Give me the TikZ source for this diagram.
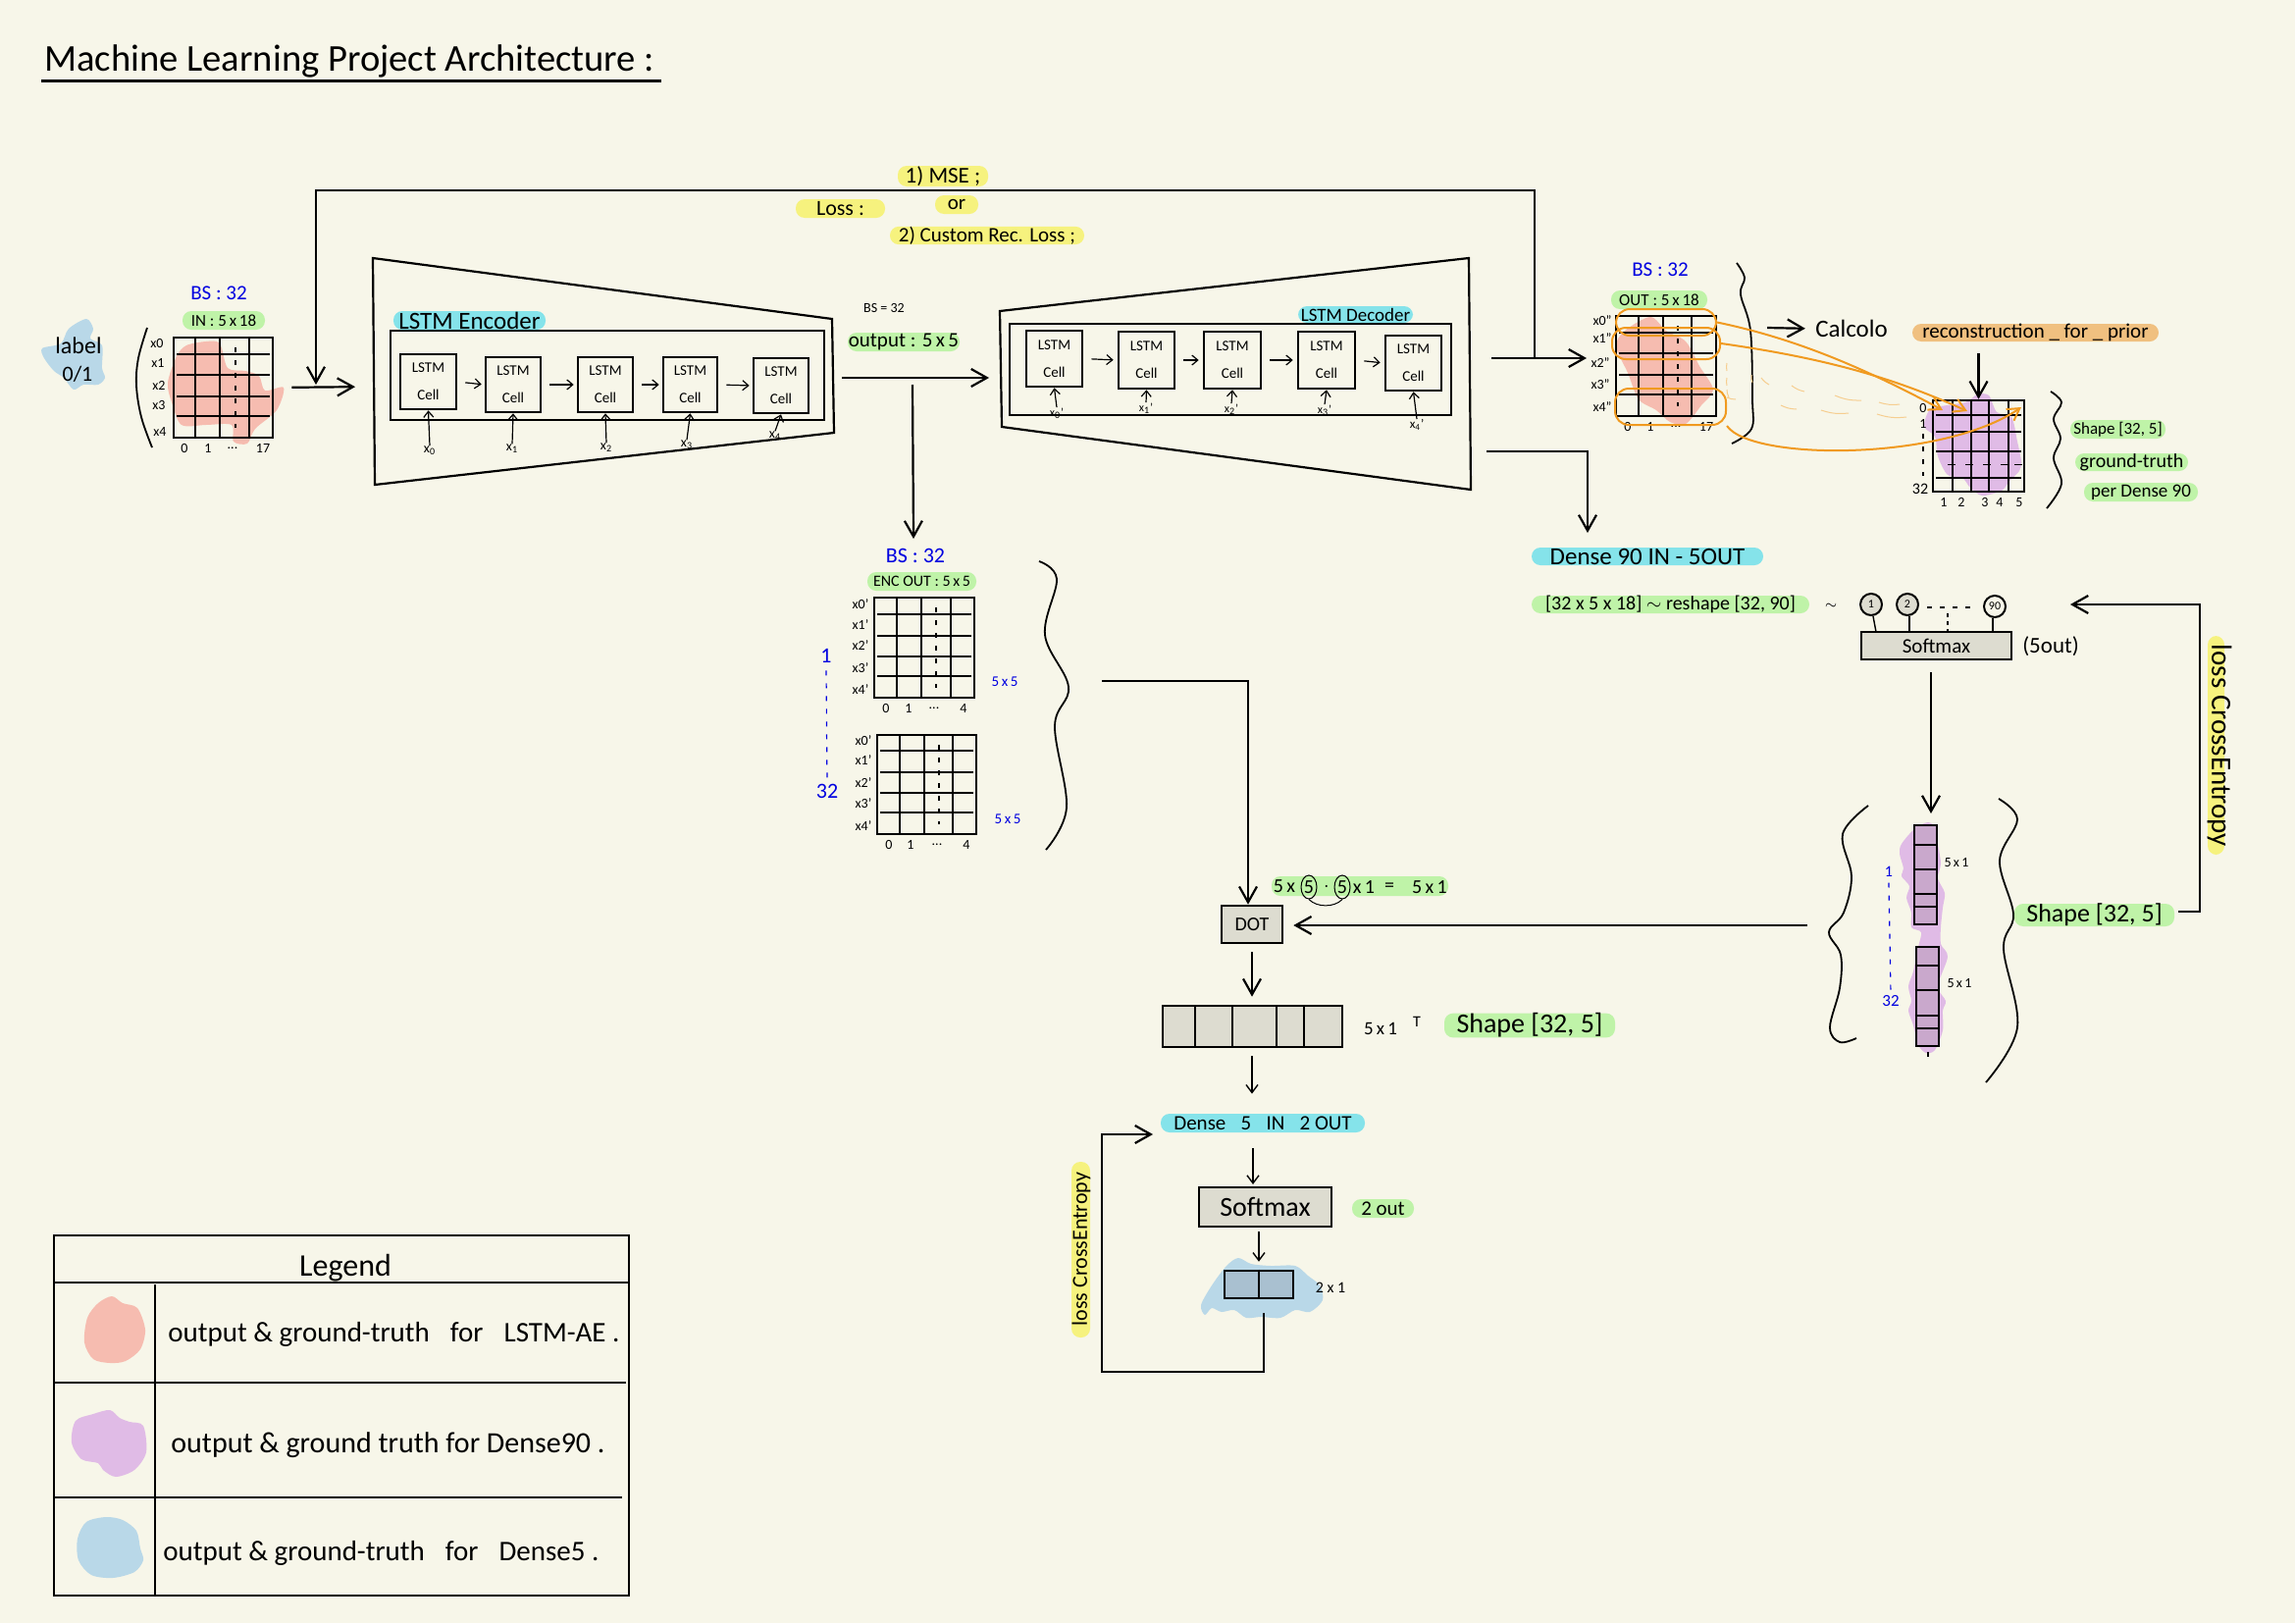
\documentclass[tikz,border=0pt]{standalone}
\usepackage{fontspec}
\setmainfont{Carlito}
\usetikzlibrary{arrows.meta,shapes.geometric}
\definecolor{paper}{HTML}{F7F6E9}
\definecolor{rblob}{HTML}{F6BCB0}
\definecolor{pblob}{HTML}{E0BBE6}
\definecolor{bblob}{HTML}{B9D8E8}
\definecolor{hyel}{HTML}{F6F27E}
\definecolor{hgrn}{HTML}{BFF3A8}
\definecolor{hcyn}{HTML}{85E3EA}
\definecolor{horg}{HTML}{F0C080}
\definecolor{boxg}{HTML}{DDDCD0}
\definecolor{stackp}{HTML}{C9A8CC}
\definecolor{dualb}{HTML}{A9C0D0}
\definecolor{ostk}{HTML}{F09A20}
\definecolor{olite}{HTML}{F6CE90}
\definecolor{bink}{HTML}{0000E0}
\tikzset{
  fs/.style={font=\fontsize{#1}{#1}\selectfont},
  pill/.style={rounded corners=4.5pt,draw=none},
  hy/.style={pill,fill=hyel},
  hg/.style={pill,fill=hgrn},
  hc/.style={pill,fill=hcyn},
  ho/.style={pill,fill=horg},
  frame/.style={draw=black,line width=1.3pt},
  gbox/.style={frame,fill=boxg},
  gl/.style={line width=1.2pt},
  gd/.style={line width=0.6pt,dash pattern=on 2.5pt off 4pt},
  line/.style={line width=1.1pt},
  thin line/.style={line width=0.7pt},
  arr/.style={line width=1.1pt,-{Straight Barb[length=8pt,width=9pt,line width=1.1pt]}},
  sarr/.style={line width=0.6pt,-{Straight Barb[length=3pt,width=5pt,line width=0.6pt]}},
  marr/.style={line width=0.7pt,-{Straight Barb[length=4pt,width=6pt,line width=0.7pt]}},
  oarr/.style={line width=1pt,draw=ostk,-{Straight Barb[length=6pt,width=7pt,line width=1pt]}},
  ocirc/.style={rectangle,rounded corners=7pt,draw=ostk,line width=1pt,inner sep=0pt},
  brace/.style={line width=0.9pt,smooth,tension=0.6},
  lbl/.style={inner sep=0pt,fs=#1},
  lbl/.default=7,
  blu/.style={inner sep=0pt,text=bink,fs=#1},
  oli/.style={line width=0.5pt,draw=olite},
}
% box given by its pixel corners
\newcommand{\rbox}[7][]{%
  \pgfmathsetmacro\rbcx{(#3+#5)/2}\pgfmathsetmacro\rbcy{(#4+#6)/2}%
  \pgfmathsetmacro\rbw{(#5-#3)/2}\pgfmathsetmacro\rbh{(#6-#4)/2}%
  \node[inner sep=0pt,minimum width=\rbw pt,minimum height=\rbh pt,#1] (#2) at (\rbcx,\rbcy) {#7};}
% grid: name,x1,y1,x2,y2,verticals,horizontals,dashed x (0 = none)
\newcommand{\gridbox}[8]{%
  \foreach \vv in {#6} \draw[gl] (\vv,#3) -- (\vv,#5);
  \foreach \hh in {#7} \draw[gl] (#2+3,\hh) -- (#4-3,\hh);
  \ifnum#8>0 \draw[gd] (#8,#3+10) -- (#8,#5-10);\fi
  \rbox[frame]{#1}{#2}{#3}{#4}{#5}{}}
\begin{document}
\begin{tikzpicture}[x=0.5pt,y=-0.5pt]
\useasboundingbox (0,0) rectangle (2339,1654);
\fill[paper] (0,0) rectangle (2339,1654);

% title
\node[inner sep=0pt,fs=19.3,anchor=west] (title) at (45,62) {Machine Learning Project Architecture :};
\coordinate (tulA) at (42,82); \coordinate (tulB) at (674,82);
\draw[line width=1.5pt] (tulA) -- (tulB);

% --- colour blobs ---
\fill[bblob] plot[smooth cycle] coordinates {(62,350)(70,335)(88,325)(95,335)(92,345)(104,352)(104,375)(107,385)(100,392)(85,392)(75,397)(65,385)(55,378)(45,365)(43,355)};
\fill[rblob] plot[smooth cycle] coordinates {(190,352)(210,348)(224,350)(232,375)(250,378)(264,383)(270,398)(289,395)(282,418)(260,437)(252,452)(238,450)(236,433)(210,433)(185,433)(175,410)(171,390)(180,363)};
\fill[rblob] plot[smooth cycle] coordinates {(1656,337)(1682,323)(1698,337)(1718,348)(1732,373)(1746,397)(1734,413)(1718,432)(1702,430)(1688,418)(1670,407)(1659,380)(1647,353)};
\fill[pblob] plot[smooth cycle] coordinates {(1972,415)(2003,410)(2015,402)(2027,403)(2035,420)(2050,425)(2056,450)(2060,470)(2058,480)(2048,490)(2040,500)(2020,505)(2008,497)(2000,487)(1985,484)(1975,465)(1972,445)(1961,435)(1965,420)};
\fill[pblob] plot[smooth cycle] coordinates {(1951,845)(1938,860)(1936,870)(1940,885)(1938,893)(1946,903)(1943,915)(1948,930)(1948,945)(1958,950)(1955,965)(1950,990)(1945,1005)(1948,1020)(1945,1030)(1950,1045)(1955,1065)(1963,1073)(1972,1070)(1980,1050)(1980,1030)(1983,1020)(1975,1005)(1985,975)(1978,962)(1978,945)(1980,925)(1982,910)(1975,895)(1978,880)(1975,860)(1974,845)(1965,838)};
\fill[bblob] plot[smooth cycle] coordinates {(1224,1330)(1235,1310)(1250,1290)(1262,1282)(1275,1288)(1295,1290)(1320,1290)(1333,1300)(1345,1310)(1348,1325)(1335,1337)(1320,1335)(1305,1343)(1285,1342)(1270,1343)(1258,1335)(1245,1337)(1235,1333)(1228,1340)};

% --- label + input ---
\node[lbl=12] (lab1) at (80,352) {label};
\node[lbl=11] (lab2) at (79,381) {0/1};
\node[blu=10.5] (bsin) at (223,299) {BS : 32};
\rbox[hg,fs=8.5]{pin}{186}{317}{270}{336}{IN : 5\,x\,18}
\gridbox{ingrid}{177}{344}{278}{446}{199,224,254}{361,382,404,424}{240}
\draw[brace] plot coordinates {(150,334)(141,365)(139,393)(144,425)(155,456)};
\node[lbl] (ir0) at (160,350) {x0};
\node[lbl] (ir1) at (161,370) {x1};
\node[lbl] (ir2) at (162,393) {x2};
\node[lbl] (ir3) at (162,413) {x3};
\node[lbl] (ir4) at (163,440) {x4};
\node[lbl] (ic0) at (188,457) {0};
\node[lbl] (ic1) at (212,457) {1};
\node[lbl] (ic2) at (237,457) {...};
\node[lbl] (ic3) at (268,457) {17};

% --- encoder ---
\coordinate (enA) at (380,263); \coordinate (enB) at (848,325);
\coordinate (enC) at (850,441); \coordinate (enD) at (382,494);
\draw[line,line join=miter] (enA) -- (enB) -- (enC) -- (enD) -- cycle;
\coordinate (enW) at (380,394);
\coordinate (enE) at (850,385);
\rbox[hc,fs=12.5]{penc}{401}{317}{556}{336}{LSTM Encoder}
\rbox[frame]{enbox}{398}{337}{840}{428}{}
\tikzset{cellb/.style={frame,align=center,font=\fontsize{7.5}{14}\selectfont}}
\rbox[cellb]{c0}{408}{361}{465}{417}{LSTM\\Cell}
\rbox[cellb]{c1}{495}{364}{551}{420}{LSTM\\Cell}
\rbox[cellb]{c2}{589}{364}{645}{420}{LSTM\\Cell}
\rbox[cellb]{c3}{676}{364}{731}{420}{LSTM\\Cell}
\rbox[cellb]{c4}{768}{365}{824}{421}{LSTM\\Cell}
\foreach \a/\b in {c0/c1,c1/c2,c2/c3,c3/c4}
  \draw[sarr,shorten <=4pt,shorten >=1.5pt] (\a.east) -- (\b.west);
\node[lbl] (ex0) at (438,459) {x\textsubscript{0}};
\node[lbl] (ex1) at (522,457) {x\textsubscript{1}};
\node[lbl] (ex2) at (618,456) {x\textsubscript{2}};
\node[lbl] (ex3) at (700,453) {x\textsubscript{3}};
\node[lbl] (ex4) at (790,444) {x\textsubscript{4}};
\draw[sarr] (ex0.north) -- (c0.south);
\draw[sarr] (ex1.north) -- (c1.south);
\draw[sarr] (ex2.north) -- (c2.south);
\draw[sarr] (ex3.north) -- (c3.south);
\draw[sarr] (ex4.north) -- (c4.south);
\draw[arr,shorten <=9pt,shorten >=9pt] (ingrid.east) -- (enW);

% --- loss labels ---
\rbox[hy,fs=11]{ploss}{811}{203}{902}{222}{Loss :}
\rbox[hy,fs=11.5]{pmse}{915}{169}{1007}{190}{1) MSE ;}
\rbox[hy,fs=10.5]{por}{953}{199}{997}{218}{or}
\rbox[hy,fs=10.5]{pcus}{907}{231}{1105}{249}{2) Custom Rec. Loss ;}

% --- encoder output ---
\node[lbl=7] (bseq) at (901,314) {BS = 32};
\rbox[hg,fs=10.5]{pout}{864}{339}{978}{358}{output : 5\,x\,5}

% --- decoder ---
\coordinate (deA) at (1019,317); \coordinate (deB) at (1497,263);
\coordinate (deC) at (1499,499); \coordinate (deD) at (1021,435);
\draw[line,line join=miter] (deA) -- (deB) -- (deC) -- (deD) -- cycle;
\coordinate (deW) at (1008,385);
\rbox[hc,fs=9.5]{pdec}{1323}{312}{1440}{329}{LSTM Decoder}
\rbox[frame]{debox}{1029}{330}{1479}{423}{}
\rbox[cellb]{d0}{1046}{337}{1103}{394}{LSTM\\Cell}
\rbox[cellb]{d1}{1140}{338}{1197}{396}{LSTM\\Cell}
\rbox[cellb]{d2}{1227}{338}{1285}{396}{LSTM\\Cell}
\rbox[cellb]{d3}{1323}{338}{1381}{396}{LSTM\\Cell}
\rbox[cellb]{d4}{1412}{342}{1469}{398}{LSTM\\Cell}
\foreach \a/\b in {d0/d1,d1/d2,d2/d3,d3/d4}
  \draw[sarr,shorten <=4pt,shorten >=2pt] (\a.east) -- (\b.west);
\node[lbl=6] (dx0) at (1077,421) {x\textsubscript{0}'};
\node[lbl=6] (dx1) at (1168,416) {x\textsubscript{1}'};
\node[lbl=6] (dx2) at (1255,417) {x\textsubscript{2}'};
\node[lbl=6] (dx3) at (1350,418) {x\textsubscript{3}'};
\node[lbl=6.5] (dx4) at (1444,433) {x\textsubscript{4}'};
\draw[sarr] (dx0.north) -- (d0.south);
\draw[sarr] (dx1.north) -- (d1.south);
\draw[sarr] (dx2.north) -- (d2.south);
\draw[sarr] (dx3.north) -- (d3.south);
\draw[sarr] (dx4.north) -- (d4.south);
\coordinate (ouE) at (858,385);
\draw[arr] (ouE) -- (deW);

% --- decoder output ---
\node[blu=10.5] (bsout) at (1692,275) {BS : 32};
\rbox[hg,fs=8.5]{pou2}{1642}{296}{1740}{315}{OUT : 5\,x\,18}
\gridbox{outgrid}{1647}{322}{1749}{424}{1670,1695,1724}{339,360,382,402}{1710}
\node[lbl] (or0) at (1633,327) {x0''};
\node[lbl] (or1) at (1633,345) {x1''};
\node[lbl] (or2) at (1631,370) {x2''};
\node[lbl] (or3) at (1631,392) {x3''};
\node[lbl] (or4) at (1633,415) {x4''};
\node[lbl] (oc0) at (1659,435) {0};
\node[lbl] (oc1) at (1682,435) {1};
\node[lbl] (oc2) at (1708,435) {...};
\node[lbl] (oc3) at (1739,435) {17};
\coordinate (outW) at (1617,365);
\coordinate (deO) at (1520,365);
\draw[arr] (deO) -- (outW);
% MSE loop
\coordinate (lpR) at (1564,365); \coordinate (lpTR) at (1564,194);
\coordinate (lpTL) at (322,194); \coordinate (lpE) at (322,392);
\draw[arr,line join=miter] (lpR) -- (lpTR) -- (lpTL) -- (lpE);
\coordinate (enDn) at (930,392);

% big brace, Calcolo
\draw[brace] plot coordinates {(1770,268)(1778,283)(1774,300)(1784,337)(1786,407)(1785,437)(1765,452)};
\coordinate (calA) at (1801,334);
\node[lbl=12.5] (calc) at (1887,335) {Calcolo};
\draw[arr,shorten >=5pt] (calA) -- (calc.west);
\rbox[ho,fs=10.5]{prec}{1949}{330}{2200}{348}{reconstruction \_ for \_ prior}

% purple matrix
\gridbox{pgrid}{1970}{408}{2063}{501}{1990,2009,2027,2047}{423,440,460,487}{0}
\foreach \dx in {1985,2003,2021,2039,2053} \draw[line width=0.5pt] (\dx,473) -- (\dx+8,473);
\draw[arr] (prec.south -| pgrid.north) ++(0,12) coordinate (recA) -- (pgrid.north);
\node[lbl] (pr0) at (1960,416) {0};
\node[lbl] (pr1) at (1960,432) {1};
\coordinate (pdA) at (1960,442); \coordinate (pdB) at (1960,485);
\draw[gd] (pdA) -- (pdB);
\node[lbl=8] (pr2) at (1957,498) {32};
\node[lbl] (pc1) at (1981,512) {1};
\node[lbl] (pc2) at (1999,512) {2};
\node[lbl] (pc3) at (2023,512) {3};
\node[lbl] (pc4) at (2038,512) {4};
\node[lbl] (pc5) at (2058,512) {5};
\draw[brace] plot coordinates {(2090,399)(2101,410)(2093,427)(2100,447)(2093,467)(2101,493)(2086,518)};
\rbox[hg,fs=8.5]{ps1}{2110}{428}{2207}{447}{Shape [32, 5]}
\rbox[hg,fs=10]{ps2}{2115}{462}{2230}{480}{ground-truth}
\rbox[hg,fs=9.5]{ps3}{2124}{492}{2240}{511}{per Dense 90}

% orange selections
\rbox[ocirc]{oe1}{1647}{315}{1749}{342}{}
\rbox[ocirc]{oe2}{1643}{334}{1753}{366}{}
\rbox[ocirc]{oe3}{1646}{396}{1759}{433}{}
\coordinate (ot1) at (1980,418); \coordinate (ot2) at (2005,419); \coordinate (ot3) at (2060,415);
\draw[oarr] (oe1.east) .. controls (1830,345) and (1900,375) .. (ot1);
\draw[oarr] (oe2.east) .. controls (1860,365) and (1930,385) .. (ot2);
\draw[oarr] (oe3.south east) .. controls (1785,470) and (1980,470) .. (ot3);
\foreach \ax/\ay/\bx/\by in {1760/370/1760/378,1760/385/1760/393,1760/397/1762/405,1760/405/1769/407,1785/382/1786/390,1795/385/1803/392,1826/393/1839/399,1870/403/1897/408,1915/410/1936/412,1815/413/1831/417,1856/418/1884/421,1913/422/1943/425}
  \draw[oli] (\ax,\ay) to[bend right=12] (\bx,\by);

% --- encoder output matrices ---
\coordinate (eoTip) at (931,549);
\draw[arr] (enDn) -- (eoTip);
\node[blu=11] (bsenc) at (933,566) {BS : 32};
\rbox[hg,fs=8]{peo}{884}{583}{995}{602}{ENC OUT : 5\,x\,5}
\gridbox{g1}{891}{609}{993}{711}{914,939,969}{626,648,669,689}{954}
\gridbox{g2}{894}{749}{995}{850}{917,942,971}{765,787,808,828}{957}
\foreach \nm/\ly/\tx in {a/616/x0',b/637/x1',c/658/x2',d/681/x3',e/703/x4'}
  \node[lbl] (gl\nm) at (877,\ly) {\tx};
\foreach \nm/\ly/\tx in {a/755/x0',b/775/x1',c/798/x2',d/819/x3',e/842/x4'}
  \node[lbl] (gm\nm) at (880,\ly) {\tx};
\node[lbl] (g1c0) at (903,722) {0};
\node[lbl] (g1c1) at (926,722) {1};
\node[lbl] (g1c2) at (952,722) {...};
\node[lbl] (g1c3) at (982,722) {4};
\node[lbl] (g2c0) at (906,861) {0};
\node[lbl] (g2c1) at (928,861) {1};
\node[lbl] (g2c2) at (955,861) {...};
\node[lbl] (g2c3) at (985,861) {4};
\node[blu=11] (bone) at (842,668) {1};
\node[blu=11] (btwo) at (843,806) {32};
\draw[gd,draw=bink,line width=0.6pt] (bone.south) ++(0,8) -- (btwo.north);
\node[blu=7.5] (d55a) at (1024,695) {5\,x\,5};
\node[blu=7.5] (d55b) at (1027,835) {5\,x\,5};
\draw[brace] plot coordinates {(1059,572)(1077,590)(1065,647)(1089,700)(1075,740)(1087,823)(1066,866)};

% --- Dense 90 branch ---
\coordinate (dnA) at (1515,460); \coordinate (dnB) at (1618,460);
\rbox[hc,fs=12.5]{pd90}{1561}{558}{1797}{576}{Dense  90 IN - 5OUT}
\coordinate (dnC) at (1618,543);
\draw[arr,line join=miter] (dnA) -- (dnB) -- (dnC);
\rbox[hg,fs=10]{prs}{1561}{607}{1844}{625}{[32 x 5 x 18] $\sim$ reshape [32, 90]}
\node[lbl] (tld) at (1866,618) {$\sim$};
\rbox[gbox,fs=10.5]{sm1}{1897}{644}{2050}{672}{Softmax}
\node[lbl=11.5] (sm1o) at (2090,659) {(5out)};
\tikzset{neu/.style={circle,draw=black,line width=1pt,minimum size=11pt,inner sep=0pt,fs=6}}
\node[neu,fill=boxg] (n1) at (1907,616) {1};
\node[neu,fill=boxg] (n2) at (1944,616) {2};
\node[neu] (n3) at (2033,618) {90};
\coordinate (ndA) at (1964,619); \coordinate (ndB) at (2008,619);
\draw[gd] (ndA) -- (ndB);
\coordinate (ndC) at (1985,625);
\coordinate (ndD) at (1985,644);
\draw[thin line,dash pattern=on 2pt off 2pt] (ndC) -- (ndD);
\draw[thin line] (n1.south) ++(2,0) -- (1912,644);
\draw[thin line] (n2.south) ++(2,0) -- (1946,644);
\draw[thin line] (n3.south) ++(-2,0) -- (2031,644);

% stacks
\rbox[frame,fill=stackp]{st1}{1951}{841}{1974}{942}{}
\rbox[frame,fill=stackp]{st2}{1953}{965}{1976}{1066}{}
\foreach \yy in {861,886,911,924} \draw[gl] (st1.west |- 0,\yy) -- (st1.east |- 0,\yy);
\foreach \yy in {984,1009,1035,1048} \draw[gl] (st2.west |- 0,\yy) -- (st2.east |- 0,\yy);
\coordinate (stTop) at (1968,829);
\draw[arr,shorten <=6pt] (sm1.south -| stTop) -- (stTop);
\coordinate (tickA) at (1965,1072); \coordinate (tickB) at (1965,1077);
\draw[thin line] (tickA) -- (tickB);
\node[blu=8] (sb1) at (1925,888) {1};
\node[blu=8.5] (sb2) at (1927,1020) {32};
\draw[gd,draw=bink,line width=0.6pt] (sb1.south) ++(0,6) -- (sb2.north);
\node[lbl=7] (s51a) at (1994,879) {5\,x\,1};
\node[lbl=7] (s51b) at (1997,1002) {5\,x\,1};
\draw[brace] plot coordinates {(1904,821)(1878,850)(1887,893)(1879,930)(1864,950)(1876,973)(1875,1007)(1865,1047)(1875,1062)(1892,1058)};
\draw[brace] plot coordinates {(2037,814)(2056,835)(2038,877)(2052,932)(2042,967)(2056,1047)(2024,1103)};
\rbox[hg,fs=13]{ps4}{2053}{923}{2216}{942}{Shape [32, 5]}
% cross entropy return
\rbox[hy]{yv}{2250}{648}{2267}{871}{}
\node[inner sep=0pt,fs=14.5,rotate=-90] (yvt) at (2262,760) {loss CrossEntropy};
\coordinate (rtA) at (2220,929); \coordinate (rtB) at (2242,929);
\coordinate (rtC) at (2242,616); \coordinate (rtD) at (2110,616);
\draw[arr,line join=miter] (rtA) -- (rtB) -- (rtC) -- (rtD);

% --- Dot path ---
\rbox[gbox,fs=10]{dotb}{1245}{923}{1307}{961}{DOT}
\coordinate (brA) at (1123,694); \coordinate (brB) at (1272,694); 
\draw[arr,line join=miter] (brA) -- (brB) -- (dotb.north -| brB);
\coordinate (stL) at (1842,943);
\draw[arr,shorten >=5pt] (stL) -- (dotb.east |- stL);
\rbox[hg]{pdot}{1296}{893}{1476}{913}{}
\node[lbl=10] (ta) at (1309,903) {5\,x};
\node[lbl=10,ellipse,draw=black,line width=0.5pt,minimum width=8pt,minimum height=12pt] (tb) at (1334,904) {5};
\node[lbl=10] (tc) at (1352,904) {$\cdot$};
\node[lbl=10,ellipse,draw=black,line width=0.5pt,minimum width=8pt,minimum height=12pt] (td) at (1368,904) {5};
\node[lbl=10] (te) at (1390,904) {x\,1};
\node[lbl=10] (tf) at (1416,904) {=};
\node[lbl=10] (tg) at (1457,904) {5\,x\,1};
\draw[line width=0.5pt] (tb.south) .. controls (1342,925) and (1360,925) .. (td.south);
% array
\rbox[gbox]{arrb}{1185}{1025}{1368}{1067}{}
\foreach \xx in {1218,1256,1301,1329} \draw[gl] (\xx,1025) -- (\xx,1067);
\draw[arr,shorten <=4pt,shorten >=4pt] (dotb.south) -- (dotb.south |- arrb.north);
\node[lbl=9.5] (a51) at (1407,1048) {5\,x\,1};
\node[lbl=8] (aT) at (1444,1041) {T};
\rbox[hg,fs=14]{ps5}{1472}{1036}{1646}{1054}{Shape [32, 5]}
\rbox[hc,fs=10.5]{pd5}{1183}{1135}{1391}{1154}{Dense \enspace 5 \enspace IN \enspace 2 OUT}
\draw[marr,shorten <=4pt,shorten >=10pt] (arrb.south -| dotb.south) -- (dotb.south |- pd5.north);
\rbox[gbox,fs=14]{sm2}{1222}{1210}{1357}{1250}{Softmax}
\coordinate (dsA) at (1277,1154); \coordinate (dsB) at (1277,1207);
\draw[marr,shorten <=8pt] (dsA) -- (dsB);
\rbox[hg,fs=10.5]{p2o}{1378}{1222}{1441}{1241}{2 out}
\rbox[frame,fill=dualb]{outb}{1248}{1295}{1318}{1323}{}
\draw[gl] (outb.north) -- (outb.south);
\draw[marr,shorten <=2pt,shorten >=4pt] (sm2.south -| outb.north) -- (outb.north);
\node[lbl=8] (o21) at (1356,1312) {2 x 1};
\coordinate (lbA) at (1288,1338); \coordinate (lbB) at (1288,1398);
\coordinate (lbC) at (1123,1398); \coordinate (lbD) at (1123,1156);
\coordinate (lbE) at (1175,1156);
\draw[arr,line join=miter] (lbA) -- (lbB) -- (lbC) -- (lbD) -- (lbE);
\rbox[hy]{yv2}{1092}{1184}{1111}{1363}{}
\node[inner sep=0pt,fs=11,rotate=90] (yv2t) at (1102,1273) {loss CrossEntropy};

% --- legend ---
\rbox[frame]{leg}{55}{1259}{641}{1626}{}
\coordinate (lh1) at (55,1307); \coordinate (lh2) at (641,1307);
\coordinate (l1a) at (55,1409); \coordinate (l1b) at (638,1409);
\coordinate (l2a) at (55,1526); \coordinate (l2b) at (634,1526);
\coordinate (lvA) at (158,1309); \coordinate (lvB) at (158,1626);
\draw[gl] (lh1) -- (lh2);
\draw[gl] (l1a) -- (l1b);
\draw[gl] (l2a) -- (l2b);
\draw[gl] (lvA) -- (lvB);
\node[lbl=16] (legt) at (352,1292) {Legend};
\fill[rblob] plot[smooth cycle] coordinates {(114,1321)(125,1328)(140,1333)(148,1355)(143,1375)(128,1387)(112,1389)(95,1385)(86,1368)(89,1343)(100,1328)};
\fill[pblob] plot[smooth cycle] coordinates {(112,1437)(122,1445)(132,1449)(146,1453)(149,1480)(137,1498)(118,1505)(105,1498)(100,1491)(83,1487)(73,1470)(77,1448)(95,1441)};
\fill[bblob] plot[smooth cycle] coordinates {(108,1546)(125,1549)(139,1560)(143,1578)(146,1590)(137,1602)(115,1608)(93,1605)(80,1590)(79,1568)(88,1551)};
\node[lbl=14.5,anchor=west] (lt1) at (171,1360) {output \& ground-truth \enspace for \enspace LSTM-AE .};
\node[lbl=15,anchor=west] (lt2) at (174,1473) {output \& ground truth for Dense90 .};
\node[lbl=14.5,anchor=west] (lt3) at (166,1583) {output \& ground-truth \enspace for \enspace Dense5 .};
\end{tikzpicture}
\end{document}
